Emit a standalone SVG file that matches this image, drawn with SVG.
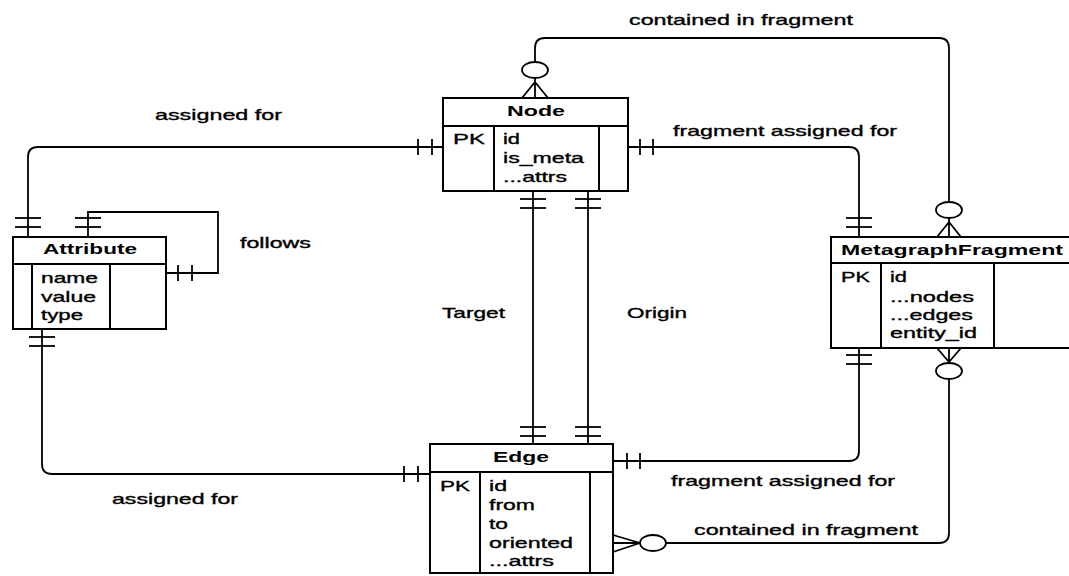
<svg xmlns="http://www.w3.org/2000/svg" width="1069" height="576" viewBox="0 0 1069 576">
<style>
.box{fill:#fff;stroke:#000;stroke-width:2}
.div{stroke:#000;stroke-width:2;fill:none}
.conn{fill:none;stroke:#000;stroke-width:1.8}
.tick{stroke:#000;stroke-width:1.8}
.ell{fill:#fff;stroke:#000;stroke-width:1.8}
.hdr{font-family:"Liberation Sans",Arial,sans-serif;font-size:15px;font-weight:bold;fill:#000}
.fld{font-family:"Liberation Sans",Arial,sans-serif;font-size:15px;fill:#000;stroke:#000;stroke-width:0.35}
.lbl{font-family:"Liberation Sans",Arial,sans-serif;font-size:15px;fill:#000;stroke:#000;stroke-width:0.35}
</style>
<rect width="1069" height="576" fill="#fff"/>
<g id="connectors">
  <!-- Attribute -> Node assigned for -->
  <path class="conn" d="M28,237 V157 Q28,147 38,147 H443"/>
  <line class="tick" x1="15" y1="218" x2="41" y2="218"/>
  <line class="tick" x1="15" y1="227" x2="41" y2="227"/>
  <line class="tick" x1="418" y1="139" x2="418" y2="155"/>
  <line class="tick" x1="432" y1="139" x2="432" y2="155"/>
  <!-- Attribute self loop follows -->
  <path class="conn" d="M88,237 V212 H218 V273 H166"/>
  <line class="tick" x1="75" y1="218" x2="101" y2="218"/>
  <line class="tick" x1="75" y1="227" x2="101" y2="227"/>
  <line class="tick" x1="178" y1="265" x2="178" y2="281"/>
  <line class="tick" x1="192" y1="265" x2="192" y2="281"/>
  <!-- Attribute -> Edge assigned for -->
  <path class="conn" d="M42,329 V464 Q42,474 52,474 H430"/>
  <line class="tick" x1="29" y1="337" x2="55" y2="337"/>
  <line class="tick" x1="29" y1="346" x2="55" y2="346"/>
  <line class="tick" x1="404" y1="466" x2="404" y2="482"/>
  <line class="tick" x1="418" y1="466" x2="418" y2="482"/>
  <!-- Node -> Edge Target -->
  <path class="conn" d="M533,191 V444"/>
  <line class="tick" x1="520" y1="199" x2="546" y2="199"/>
  <line class="tick" x1="520" y1="208" x2="546" y2="208"/>
  <line class="tick" x1="520" y1="427" x2="546" y2="427"/>
  <line class="tick" x1="520" y1="436" x2="546" y2="436"/>
  <!-- Node -> Edge Origin -->
  <path class="conn" d="M588,191 V444"/>
  <line class="tick" x1="575" y1="199" x2="601" y2="199"/>
  <line class="tick" x1="575" y1="208" x2="601" y2="208"/>
  <line class="tick" x1="575" y1="427" x2="601" y2="427"/>
  <line class="tick" x1="575" y1="436" x2="601" y2="436"/>
  <!-- Node -> MetagraphFragment fragment assigned for -->
  <path class="conn" d="M628,147 H849 Q859,147 859,157 V237"/>
  <line class="tick" x1="640" y1="139" x2="640" y2="155"/>
  <line class="tick" x1="653" y1="139" x2="653" y2="155"/>
  <line class="tick" x1="846" y1="218" x2="872" y2="218"/>
  <line class="tick" x1="846" y1="227" x2="872" y2="227"/>
  <!-- Node contained in fragment (top) -->
  <path class="conn" d="M535,62 V48 Q535,38 545,38 H939 Q949,38 949,48 V202"/>
  <path class="conn" d="M535,78 V98 M535,82 L522,98 M535,82 L548,98"/>
  <ellipse class="ell" cx="535" cy="70" rx="13" ry="8"/>
  <path class="conn" d="M949,218 V237 M949,222 L937,237 M949,222 L961,237"/>
  <ellipse class="ell" cx="949" cy="210" rx="13" ry="8"/>
  <!-- MetagraphFragment -> Edge fragment assigned for -->
  <path class="conn" d="M859,348 V451 Q859,461 849,461 H613"/>
  <line class="tick" x1="846" y1="355" x2="872" y2="355"/>
  <line class="tick" x1="846" y1="364" x2="872" y2="364"/>
  <line class="tick" x1="627" y1="453" x2="627" y2="469"/>
  <line class="tick" x1="640" y1="453" x2="640" y2="469"/>
  <!-- MetagraphFragment -> Edge contained in fragment (bottom) -->
  <path class="conn" d="M949,379 V533 Q949,543 939,543 H666"/>
  <path class="conn" d="M949,348 V363 M937,348 L949,362 M961,348 L949,362"/>
  <ellipse class="ell" cx="949" cy="371" rx="13" ry="8"/>
  <path class="conn" d="M613,543 H640 M613,535 L640,543 M613,552 L640,543"/>
  <ellipse class="ell" cx="653" cy="543" rx="13" ry="8"/>
</g>
<g id="labels">
  <text class="lbl" x="629" y="25" textLength="224" lengthAdjust="spacingAndGlyphs">contained in fragment</text>
  <text class="lbl" x="155" y="120" textLength="127" lengthAdjust="spacingAndGlyphs">assigned for</text>
  <text class="lbl" x="673" y="136" textLength="224" lengthAdjust="spacingAndGlyphs">fragment assigned for</text>
  <text class="lbl" x="240" y="248" textLength="71" lengthAdjust="spacingAndGlyphs">follows</text>
  <text class="lbl" x="442" y="318" textLength="63" lengthAdjust="spacingAndGlyphs">Target</text>
  <text class="lbl" x="627" y="318" textLength="60" lengthAdjust="spacingAndGlyphs">Origin</text>
  <text class="lbl" x="112" y="504" textLength="126" lengthAdjust="spacingAndGlyphs">assigned for</text>
  <text class="lbl" x="671" y="486" textLength="224" lengthAdjust="spacingAndGlyphs">fragment assigned for</text>
  <text class="lbl" x="694" y="535" textLength="224" lengthAdjust="spacingAndGlyphs">contained in fragment</text>
</g>
<g id="node-Node">
  <rect class="box" x="443" y="98" width="185" height="93"/>
  <path class="div" d="M443,126 H628 M494,126 V191 M599,126 V191"/>
  <text class="hdr" x="536" y="116" text-anchor="middle" textLength="58" lengthAdjust="spacingAndGlyphs">Node</text>
  <text class="fld" x="453" y="144" textLength="32" lengthAdjust="spacingAndGlyphs">PK</text>
  <text class="fld" x="503" y="144" textLength="17" lengthAdjust="spacingAndGlyphs">id</text>
  <text class="fld" x="503" y="163" textLength="81" lengthAdjust="spacingAndGlyphs">is_meta</text>
  <text class="fld" x="503" y="182" textLength="64" lengthAdjust="spacingAndGlyphs">...attrs</text>
</g>
<g id="node-Attribute">
  <rect class="box" x="13" y="237" width="153" height="92"/>
  <path class="div" d="M13,264 H166 M32,264 V329 M110,264 V329"/>
  <text class="hdr" x="90" y="254" text-anchor="middle" textLength="94" lengthAdjust="spacingAndGlyphs">Attribute</text>
  <text class="fld" x="41" y="283" textLength="57" lengthAdjust="spacingAndGlyphs">name</text>
  <text class="fld" x="41" y="302" textLength="55" lengthAdjust="spacingAndGlyphs">value</text>
  <text class="fld" x="41" y="320" textLength="42" lengthAdjust="spacingAndGlyphs">type</text>
</g>
<g id="node-MetagraphFragment">
  <rect class="box" x="831" y="237" width="240" height="111"/>
  <path class="div" d="M831,263 H1071 M881,263 V348 M994,263 V348"/>
  <text class="hdr" x="841" y="255" textLength="222" lengthAdjust="spacingAndGlyphs">MetagraphFragment</text>
  <text class="fld" x="841" y="282" textLength="29" lengthAdjust="spacingAndGlyphs">PK</text>
  <text class="fld" x="890" y="282" textLength="17" lengthAdjust="spacingAndGlyphs">id</text>
  <text class="fld" x="890" y="302" textLength="84" lengthAdjust="spacingAndGlyphs">...nodes</text>
  <text class="fld" x="890" y="320" textLength="83" lengthAdjust="spacingAndGlyphs">...edges</text>
  <text class="fld" x="890" y="338" textLength="87" lengthAdjust="spacingAndGlyphs">entity_id</text>
</g>
<g id="node-Edge">
  <rect class="box" x="430" y="444" width="183" height="129"/>
  <path class="div" d="M430,472 H613 M480,472 V573 M590,472 V573"/>
  <text class="hdr" x="521" y="462" text-anchor="middle" textLength="56" lengthAdjust="spacingAndGlyphs">Edge</text>
  <text class="fld" x="440" y="491" textLength="30" lengthAdjust="spacingAndGlyphs">PK</text>
  <text class="fld" x="489" y="491" textLength="18" lengthAdjust="spacingAndGlyphs">id</text>
  <text class="fld" x="489" y="510" textLength="46" lengthAdjust="spacingAndGlyphs">from</text>
  <text class="fld" x="489" y="529" textLength="19" lengthAdjust="spacingAndGlyphs">to</text>
  <text class="fld" x="489" y="548" textLength="84" lengthAdjust="spacingAndGlyphs">oriented</text>
  <text class="fld" x="489" y="566" textLength="65" lengthAdjust="spacingAndGlyphs">...attrs</text>
</g>
</svg>
